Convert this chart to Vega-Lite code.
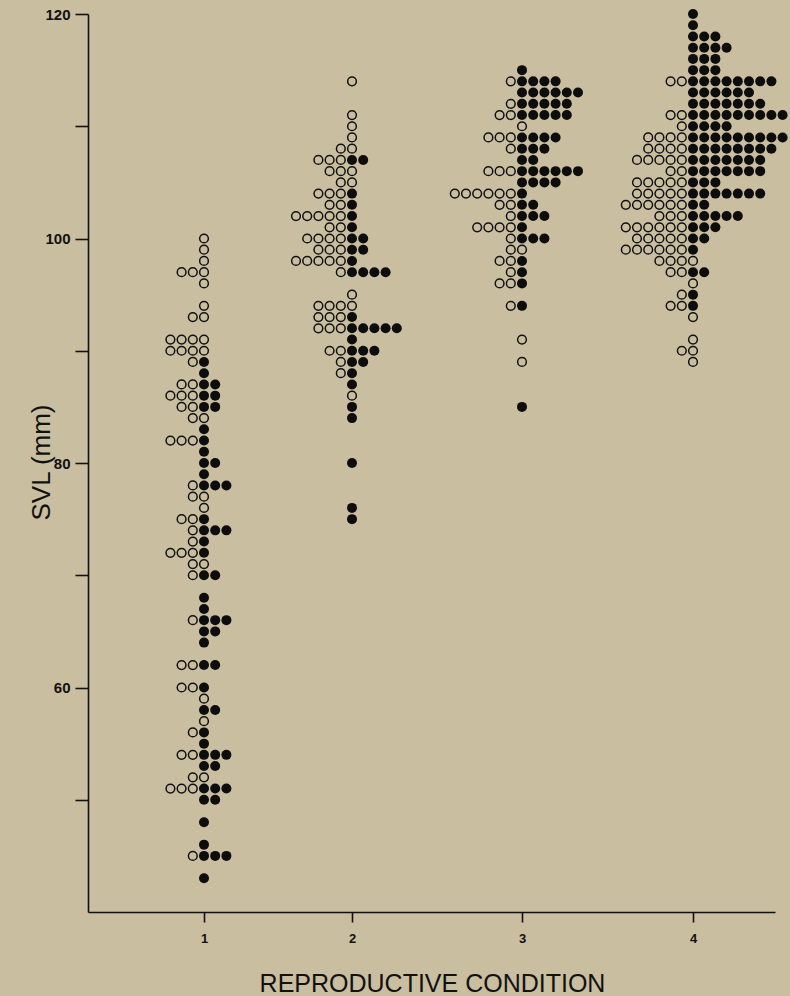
{
  "$schema": "https://vega.github.io/schema/vega-lite/v6.json",
  "width": 687,
  "height": 898,
  "autosize": "none",
  "padding": {"left": 88, "top": 14, "right": 15, "bottom": 84},
  "background": "#c9bea0",
  "config": {
    "view": {"stroke": null},
    "axis": {
      "domainColor": "#111",
      "domainWidth": 1.6,
      "tickColor": "#111",
      "tickWidth": 1.6,
      "grid": false,
      "labelColor": "#111",
      "titleColor": "#111",
      "labelFont": "Liberation Sans",
      "titleFont": "Liberation Sans",
      "titleFontWeight": "normal"
    }
  },
  "data": {
    "values": [
      {"c":1,"v":100,"f":0},
      {"c":1,"v":99,"f":0},
      {"c":1,"v":98,"f":0},
      {"c":1,"v":97,"f":0},{"c":1,"v":97,"f":0},{"c":1,"v":97,"f":0},
      {"c":1,"v":96,"f":0},
      {"c":1,"v":94,"f":0},
      {"c":1,"v":93,"f":0},{"c":1,"v":93,"f":0},
      {"c":1,"v":91,"f":0},{"c":1,"v":91,"f":0},{"c":1,"v":91,"f":0},{"c":1,"v":91,"f":0},
      {"c":1,"v":90,"f":0},{"c":1,"v":90,"f":0},{"c":1,"v":90,"f":0},{"c":1,"v":90,"f":0},
      {"c":1,"v":89,"f":0},{"c":1,"v":89,"f":1},
      {"c":1,"v":88,"f":1},
      {"c":1,"v":87,"f":0},{"c":1,"v":87,"f":0},{"c":1,"v":87,"f":1},{"c":1,"v":87,"f":1},
      {"c":1,"v":86,"f":0},{"c":1,"v":86,"f":0},{"c":1,"v":86,"f":0},{"c":1,"v":86,"f":1},{"c":1,"v":86,"f":1},
      {"c":1,"v":85,"f":0},{"c":1,"v":85,"f":0},{"c":1,"v":85,"f":1},{"c":1,"v":85,"f":1},
      {"c":1,"v":84,"f":0},{"c":1,"v":84,"f":0},
      {"c":1,"v":83,"f":1},
      {"c":1,"v":82,"f":0},{"c":1,"v":82,"f":0},{"c":1,"v":82,"f":0},{"c":1,"v":82,"f":1},
      {"c":1,"v":81,"f":1},
      {"c":1,"v":80,"f":1},{"c":1,"v":80,"f":1},
      {"c":1,"v":79,"f":1},
      {"c":1,"v":78,"f":0},{"c":1,"v":78,"f":1},{"c":1,"v":78,"f":1},{"c":1,"v":78,"f":1},
      {"c":1,"v":77,"f":0},{"c":1,"v":77,"f":0},
      {"c":1,"v":76,"f":0},
      {"c":1,"v":75,"f":0},{"c":1,"v":75,"f":0},{"c":1,"v":75,"f":1},
      {"c":1,"v":74,"f":0},{"c":1,"v":74,"f":1},{"c":1,"v":74,"f":1},{"c":1,"v":74,"f":1},
      {"c":1,"v":73,"f":0},{"c":1,"v":73,"f":1},
      {"c":1,"v":72,"f":0},{"c":1,"v":72,"f":0},{"c":1,"v":72,"f":0},{"c":1,"v":72,"f":1},
      {"c":1,"v":71,"f":0},{"c":1,"v":71,"f":0},
      {"c":1,"v":70,"f":0},{"c":1,"v":70,"f":1},{"c":1,"v":70,"f":1},
      {"c":1,"v":68,"f":1},
      {"c":1,"v":67,"f":1},
      {"c":1,"v":66,"f":0},{"c":1,"v":66,"f":1},{"c":1,"v":66,"f":1},{"c":1,"v":66,"f":1},
      {"c":1,"v":65,"f":1},{"c":1,"v":65,"f":1},
      {"c":1,"v":64,"f":1},
      {"c":1,"v":62,"f":0},{"c":1,"v":62,"f":0},{"c":1,"v":62,"f":1},{"c":1,"v":62,"f":1},
      {"c":1,"v":60,"f":0},{"c":1,"v":60,"f":0},{"c":1,"v":60,"f":1},
      {"c":1,"v":59,"f":0},
      {"c":1,"v":58,"f":1},{"c":1,"v":58,"f":1},
      {"c":1,"v":57,"f":0},
      {"c":1,"v":56,"f":0},{"c":1,"v":56,"f":1},
      {"c":1,"v":55,"f":1},
      {"c":1,"v":54,"f":0},{"c":1,"v":54,"f":0},{"c":1,"v":54,"f":1},{"c":1,"v":54,"f":1},{"c":1,"v":54,"f":1},
      {"c":1,"v":53,"f":1},{"c":1,"v":53,"f":1},
      {"c":1,"v":52,"f":0},{"c":1,"v":52,"f":0},
      {"c":1,"v":51,"f":0},{"c":1,"v":51,"f":0},{"c":1,"v":51,"f":0},{"c":1,"v":51,"f":1},{"c":1,"v":51,"f":1},{"c":1,"v":51,"f":1},
      {"c":1,"v":50,"f":1},{"c":1,"v":50,"f":1},
      {"c":1,"v":48,"f":1},
      {"c":1,"v":46,"f":1},
      {"c":1,"v":45,"f":0},{"c":1,"v":45,"f":1},{"c":1,"v":45,"f":1},{"c":1,"v":45,"f":1},
      {"c":1,"v":43,"f":1},

      {"c":2,"v":114,"f":0},
      {"c":2,"v":111,"f":0},
      {"c":2,"v":110,"f":0},
      {"c":2,"v":109,"f":0},
      {"c":2,"v":108,"f":0},{"c":2,"v":108,"f":0},
      {"c":2,"v":107,"f":0},{"c":2,"v":107,"f":0},{"c":2,"v":107,"f":0},{"c":2,"v":107,"f":1},{"c":2,"v":107,"f":1},
      {"c":2,"v":106,"f":0},{"c":2,"v":106,"f":0},{"c":2,"v":106,"f":0},
      {"c":2,"v":105,"f":0},{"c":2,"v":105,"f":0},
      {"c":2,"v":104,"f":0},{"c":2,"v":104,"f":0},{"c":2,"v":104,"f":0},{"c":2,"v":104,"f":1},
      {"c":2,"v":103,"f":0},{"c":2,"v":103,"f":0},{"c":2,"v":103,"f":1},
      {"c":2,"v":102,"f":0},{"c":2,"v":102,"f":0},{"c":2,"v":102,"f":0},{"c":2,"v":102,"f":0},{"c":2,"v":102,"f":0},{"c":2,"v":102,"f":1},
      {"c":2,"v":101,"f":0},{"c":2,"v":101,"f":0},{"c":2,"v":101,"f":1},
      {"c":2,"v":100,"f":0},{"c":2,"v":100,"f":0},{"c":2,"v":100,"f":0},{"c":2,"v":100,"f":0},{"c":2,"v":100,"f":1},{"c":2,"v":100,"f":1},
      {"c":2,"v":99,"f":0},{"c":2,"v":99,"f":0},{"c":2,"v":99,"f":0},{"c":2,"v":99,"f":1},{"c":2,"v":99,"f":1},
      {"c":2,"v":98,"f":0},{"c":2,"v":98,"f":0},{"c":2,"v":98,"f":0},{"c":2,"v":98,"f":0},{"c":2,"v":98,"f":0},{"c":2,"v":98,"f":1},
      {"c":2,"v":97,"f":0},{"c":2,"v":97,"f":1},{"c":2,"v":97,"f":1},{"c":2,"v":97,"f":1},{"c":2,"v":97,"f":1},
      {"c":2,"v":95,"f":0},
      {"c":2,"v":94,"f":0},{"c":2,"v":94,"f":0},{"c":2,"v":94,"f":0},{"c":2,"v":94,"f":0},
      {"c":2,"v":93,"f":0},{"c":2,"v":93,"f":0},{"c":2,"v":93,"f":0},{"c":2,"v":93,"f":1},
      {"c":2,"v":92,"f":0},{"c":2,"v":92,"f":0},{"c":2,"v":92,"f":0},{"c":2,"v":92,"f":1},{"c":2,"v":92,"f":1},{"c":2,"v":92,"f":1},{"c":2,"v":92,"f":1},{"c":2,"v":92,"f":1},
      {"c":2,"v":91,"f":1},
      {"c":2,"v":90,"f":0},{"c":2,"v":90,"f":0},{"c":2,"v":90,"f":1},{"c":2,"v":90,"f":1},{"c":2,"v":90,"f":1},
      {"c":2,"v":89,"f":0},{"c":2,"v":89,"f":1},{"c":2,"v":89,"f":1},
      {"c":2,"v":88,"f":0},{"c":2,"v":88,"f":1},
      {"c":2,"v":87,"f":1},
      {"c":2,"v":86,"f":0},
      {"c":2,"v":85,"f":1},
      {"c":2,"v":84,"f":1},
      {"c":2,"v":80,"f":1},
      {"c":2,"v":76,"f":1},
      {"c":2,"v":75,"f":1},

      {"c":3,"v":115,"f":1},
      {"c":3,"v":114,"f":0},{"c":3,"v":114,"f":1},{"c":3,"v":114,"f":1},{"c":3,"v":114,"f":1},{"c":3,"v":114,"f":1},
      {"c":3,"v":113,"f":1},{"c":3,"v":113,"f":1},{"c":3,"v":113,"f":1},{"c":3,"v":113,"f":1},{"c":3,"v":113,"f":1},{"c":3,"v":113,"f":1},
      {"c":3,"v":112,"f":0},{"c":3,"v":112,"f":1},{"c":3,"v":112,"f":1},{"c":3,"v":112,"f":1},{"c":3,"v":112,"f":1},{"c":3,"v":112,"f":1},
      {"c":3,"v":111,"f":0},{"c":3,"v":111,"f":0},{"c":3,"v":111,"f":1},{"c":3,"v":111,"f":1},{"c":3,"v":111,"f":1},{"c":3,"v":111,"f":1},{"c":3,"v":111,"f":1},
      {"c":3,"v":110,"f":0},
      {"c":3,"v":109,"f":0},{"c":3,"v":109,"f":0},{"c":3,"v":109,"f":0},{"c":3,"v":109,"f":1},{"c":3,"v":109,"f":1},{"c":3,"v":109,"f":1},{"c":3,"v":109,"f":1},
      {"c":3,"v":108,"f":0},{"c":3,"v":108,"f":1},{"c":3,"v":108,"f":1},{"c":3,"v":108,"f":1},
      {"c":3,"v":107,"f":1},{"c":3,"v":107,"f":1},
      {"c":3,"v":106,"f":0},{"c":3,"v":106,"f":0},{"c":3,"v":106,"f":0},{"c":3,"v":106,"f":1},{"c":3,"v":106,"f":1},{"c":3,"v":106,"f":1},{"c":3,"v":106,"f":1},{"c":3,"v":106,"f":1},{"c":3,"v":106,"f":1},
      {"c":3,"v":105,"f":1},{"c":3,"v":105,"f":1},{"c":3,"v":105,"f":1},{"c":3,"v":105,"f":1},
      {"c":3,"v":104,"f":0},{"c":3,"v":104,"f":0},{"c":3,"v":104,"f":0},{"c":3,"v":104,"f":0},{"c":3,"v":104,"f":0},{"c":3,"v":104,"f":0},{"c":3,"v":104,"f":1},
      {"c":3,"v":103,"f":0},{"c":3,"v":103,"f":0},{"c":3,"v":103,"f":1},{"c":3,"v":103,"f":1},
      {"c":3,"v":102,"f":0},{"c":3,"v":102,"f":1},{"c":3,"v":102,"f":1},{"c":3,"v":102,"f":1},
      {"c":3,"v":101,"f":0},{"c":3,"v":101,"f":0},{"c":3,"v":101,"f":0},{"c":3,"v":101,"f":0},{"c":3,"v":101,"f":1},
      {"c":3,"v":100,"f":0},{"c":3,"v":100,"f":1},{"c":3,"v":100,"f":1},{"c":3,"v":100,"f":1},
      {"c":3,"v":99,"f":0},{"c":3,"v":99,"f":0},
      {"c":3,"v":98,"f":0},{"c":3,"v":98,"f":0},{"c":3,"v":98,"f":1},
      {"c":3,"v":97,"f":0},{"c":3,"v":97,"f":1},
      {"c":3,"v":96,"f":0},{"c":3,"v":96,"f":0},{"c":3,"v":96,"f":1},
      {"c":3,"v":94,"f":0},{"c":3,"v":94,"f":1},
      {"c":3,"v":91,"f":0},
      {"c":3,"v":89,"f":0},
      {"c":3,"v":85,"f":1},

      {"c":4,"v":120,"f":1},
      {"c":4,"v":119,"f":1},
      {"c":4,"v":118,"f":1},{"c":4,"v":118,"f":1},{"c":4,"v":118,"f":1},
      {"c":4,"v":117,"f":1},{"c":4,"v":117,"f":1},{"c":4,"v":117,"f":1},{"c":4,"v":117,"f":1},
      {"c":4,"v":116,"f":1},{"c":4,"v":116,"f":1},{"c":4,"v":116,"f":1},
      {"c":4,"v":115,"f":1},{"c":4,"v":115,"f":1},{"c":4,"v":115,"f":1},
      {"c":4,"v":114,"f":0},{"c":4,"v":114,"f":0},{"c":4,"v":114,"f":1},{"c":4,"v":114,"f":1},{"c":4,"v":114,"f":1},{"c":4,"v":114,"f":1},{"c":4,"v":114,"f":1},{"c":4,"v":114,"f":1},{"c":4,"v":114,"f":1},{"c":4,"v":114,"f":1},
      {"c":4,"v":113,"f":1},{"c":4,"v":113,"f":1},{"c":4,"v":113,"f":1},{"c":4,"v":113,"f":1},{"c":4,"v":113,"f":1},{"c":4,"v":113,"f":1},
      {"c":4,"v":112,"f":1},{"c":4,"v":112,"f":1},{"c":4,"v":112,"f":1},{"c":4,"v":112,"f":1},{"c":4,"v":112,"f":1},{"c":4,"v":112,"f":1},{"c":4,"v":112,"f":1},
      {"c":4,"v":111,"f":0},{"c":4,"v":111,"f":0},{"c":4,"v":111,"f":1},{"c":4,"v":111,"f":1},{"c":4,"v":111,"f":1},{"c":4,"v":111,"f":1},{"c":4,"v":111,"f":1},{"c":4,"v":111,"f":1},{"c":4,"v":111,"f":1},{"c":4,"v":111,"f":1},{"c":4,"v":111,"f":1},
      {"c":4,"v":110,"f":0},{"c":4,"v":110,"f":1},{"c":4,"v":110,"f":1},{"c":4,"v":110,"f":1},{"c":4,"v":110,"f":1},
      {"c":4,"v":109,"f":0},{"c":4,"v":109,"f":0},{"c":4,"v":109,"f":0},{"c":4,"v":109,"f":0},{"c":4,"v":109,"f":1},{"c":4,"v":109,"f":1},{"c":4,"v":109,"f":1},{"c":4,"v":109,"f":1},{"c":4,"v":109,"f":1},{"c":4,"v":109,"f":1},{"c":4,"v":109,"f":1},{"c":4,"v":109,"f":1},{"c":4,"v":109,"f":1},
      {"c":4,"v":108,"f":0},{"c":4,"v":108,"f":0},{"c":4,"v":108,"f":0},{"c":4,"v":108,"f":0},{"c":4,"v":108,"f":1},{"c":4,"v":108,"f":1},{"c":4,"v":108,"f":1},{"c":4,"v":108,"f":1},{"c":4,"v":108,"f":1},{"c":4,"v":108,"f":1},{"c":4,"v":108,"f":1},{"c":4,"v":108,"f":1},
      {"c":4,"v":107,"f":0},{"c":4,"v":107,"f":0},{"c":4,"v":107,"f":0},{"c":4,"v":107,"f":0},{"c":4,"v":107,"f":0},{"c":4,"v":107,"f":1},{"c":4,"v":107,"f":1},{"c":4,"v":107,"f":1},{"c":4,"v":107,"f":1},{"c":4,"v":107,"f":1},{"c":4,"v":107,"f":1},{"c":4,"v":107,"f":1},
      {"c":4,"v":106,"f":0},{"c":4,"v":106,"f":0},{"c":4,"v":106,"f":1},{"c":4,"v":106,"f":1},{"c":4,"v":106,"f":1},{"c":4,"v":106,"f":1},{"c":4,"v":106,"f":1},{"c":4,"v":106,"f":1},{"c":4,"v":106,"f":1},
      {"c":4,"v":105,"f":0},{"c":4,"v":105,"f":0},{"c":4,"v":105,"f":0},{"c":4,"v":105,"f":0},{"c":4,"v":105,"f":0},{"c":4,"v":105,"f":1},{"c":4,"v":105,"f":1},{"c":4,"v":105,"f":1},
      {"c":4,"v":104,"f":0},{"c":4,"v":104,"f":0},{"c":4,"v":104,"f":0},{"c":4,"v":104,"f":0},{"c":4,"v":104,"f":0},{"c":4,"v":104,"f":1},{"c":4,"v":104,"f":1},{"c":4,"v":104,"f":1},{"c":4,"v":104,"f":1},{"c":4,"v":104,"f":1},{"c":4,"v":104,"f":1},{"c":4,"v":104,"f":1},
      {"c":4,"v":103,"f":0},{"c":4,"v":103,"f":0},{"c":4,"v":103,"f":0},{"c":4,"v":103,"f":0},{"c":4,"v":103,"f":0},{"c":4,"v":103,"f":0},{"c":4,"v":103,"f":1},{"c":4,"v":103,"f":1},
      {"c":4,"v":102,"f":0},{"c":4,"v":102,"f":0},{"c":4,"v":102,"f":0},{"c":4,"v":102,"f":1},{"c":4,"v":102,"f":1},{"c":4,"v":102,"f":1},{"c":4,"v":102,"f":1},{"c":4,"v":102,"f":1},
      {"c":4,"v":101,"f":0},{"c":4,"v":101,"f":0},{"c":4,"v":101,"f":0},{"c":4,"v":101,"f":0},{"c":4,"v":101,"f":0},{"c":4,"v":101,"f":0},{"c":4,"v":101,"f":1},{"c":4,"v":101,"f":1},{"c":4,"v":101,"f":1},
      {"c":4,"v":100,"f":0},{"c":4,"v":100,"f":0},{"c":4,"v":100,"f":0},{"c":4,"v":100,"f":0},{"c":4,"v":100,"f":0},{"c":4,"v":100,"f":1},{"c":4,"v":100,"f":1},
      {"c":4,"v":99,"f":0},{"c":4,"v":99,"f":0},{"c":4,"v":99,"f":0},{"c":4,"v":99,"f":0},{"c":4,"v":99,"f":0},{"c":4,"v":99,"f":0},{"c":4,"v":99,"f":1},
      {"c":4,"v":98,"f":0},{"c":4,"v":98,"f":0},{"c":4,"v":98,"f":0},{"c":4,"v":98,"f":0},
      {"c":4,"v":97,"f":0},{"c":4,"v":97,"f":0},{"c":4,"v":97,"f":1},{"c":4,"v":97,"f":1},
      {"c":4,"v":96,"f":0},
      {"c":4,"v":95,"f":0},{"c":4,"v":95,"f":1},
      {"c":4,"v":94,"f":0},{"c":4,"v":94,"f":0},{"c":4,"v":94,"f":1},
      {"c":4,"v":93,"f":0},
      {"c":4,"v":91,"f":0},
      {"c":4,"v":90,"f":0},{"c":4,"v":90,"f":0},
      {"c":4,"v":89,"f":0}
    ]
  },
  "transform": [
    {"joinaggregate": [{"op": "sum", "field": "f", "as": "nF"}], "groupby": ["c", "v"]},
    {"window": [{"op": "row_number", "as": "rn"}], "groupby": ["c", "v", "f"]},
    {"calculate": "datum.f == 1 ? datum.rn - 1 : -(datum.rn - 1 + (datum.nF > 0 ? 1 : 0))", "as": "col"}
  ],
  "encoding": {
    "x": {
      "field": "c",
      "type": "quantitative",
      "scale": {"domain": [0, 1, 2, 3, 4, 5], "range": [0, 116, 264, 434, 605, 687], "nice": false, "zero": false},
      "axis": {
        "values": [1, 2, 3, 4],
        "format": "d",
        "tickSize": 10,
        "labelPadding": 10,
        "labelFontSize": 13,
        "labelFontWeight": "bold",
        "title": "REPRODUCTIVE CONDITION",
        "titleFontSize": 25,
        "titleX": 344,
        "titleY": 79,
        "titleAlign": "center",
        "titleBaseline": "alphabetic"
      }
    },
    "y": {
      "field": "v",
      "type": "quantitative",
      "scale": {"domain": [40, 120], "nice": false, "zero": false},
      "axis": {
        "values": [50, 60, 70, 80, 90, 100, 110, 120],
        "labelExpr": "datum.value % 20 == 0 ? datum.label : ''",
        "tickSize": 13,
        "labelPadding": 5,
        "labelFontSize": 15,
        "labelFontWeight": "bold",
        "title": "SVL (mm)",
        "titleFontSize": 26,
        "titleAngle": -90,
        "titleX": -47,
        "titleY": 448,
        "titleAlign": "center",
        "titleBaseline": "middle"
      }
    }
  },
  "layer": [
    {
      "transform": [{"filter": "datum.f == 0"}],
      "mark": {"type": "point", "shape": "circle", "filled": false, "stroke": "#111", "strokeWidth": 1.5, "size": 76, "opacity": 1, "xOffset": {"expr": "datum.col * 11.2"}}
    },
    {
      "transform": [{"filter": "datum.f == 1"}],
      "mark": {"type": "circle", "color": "#0d0d0d", "size": 100, "opacity": 1, "xOffset": {"expr": "datum.col * 11.2"}}
    }
  ]
}
